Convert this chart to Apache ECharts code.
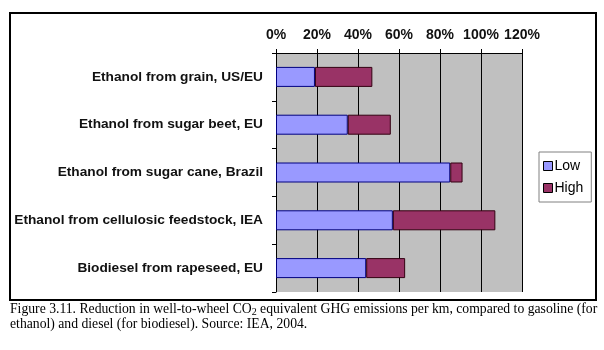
<!DOCTYPE html>
<html>
<head>
<meta charset="utf-8">
<script src="https://cdn.jsdelivr.net/npm/echarts@6/dist/echarts.min.js"></script>
<style>
  html, body { margin: 0; padding: 0; background: #fff; }
  #chart { width: 604px; height: 350px; }
</style>
</head>
<body>
<div id="chart"></div>
<script>
// categories top to bottom
const categories = [
  'Ethanol from grain, US/EU',
  'Ethanol from sugar beet, EU',
  'Ethanol from sugar cane, Brazil',
  'Ethanol from cellulosic feedstock, IEA',
  'Biodiesel from rapeseed, EU'
]
// low estimate, and extra part up to the high estimate (stacked), in %
const lowValues = [19, 35, 85, 57, 44]
const highExtra = [28, 21, 6, 50, 19]
const xTicks = [0, 20, 40, 60, 80, 100, 120]

const chart = echarts.init(document.getElementById('chart'))

const option = {
  backgroundColor: '#fff',
  animation: false,
  grid: { left: 276, right: 82, top: 53, bottom: 58 },
  xAxis: {
    type: 'value',
    position: 'top',
    min: xTicks[0],
    max: xTicks[xTicks.length - 1],
    interval: 20,
    axisLine: { show: true, lineStyle: { color: '#000', width: 1 } },
    axisTick: { show: true, length: 4, inside: false, lineStyle: { color: '#000' } },
    axisLabel: {
      formatter: '{value}%',
      color: '#111',
      fontFamily: 'Liberation Sans, Arial',
      fontWeight: 'bold',
      fontSize: 14,
      margin: 11
    },
    splitLine: { show: true, lineStyle: { color: '#000', width: 1 } },
    splitArea: { show: true, areaStyle: { color: ['#c0c0c0', '#c0c0c0'] } }
  },
  yAxis: {
    type: 'category',
    data: categories,
    inverse: true,
    axisLine: { show: true, lineStyle: { color: '#000' } },
    axisTick: { show: true, length: 4, lineStyle: { color: '#000' } },
    axisLabel: {
      color: '#111',
      fontFamily: 'Liberation Sans, Arial',
      fontWeight: 'bold',
      fontSize: 13.7,
      margin: 13
    }
  },
  legend: {
    orient: 'vertical',
    left: 539,
    top: 152,
    itemWidth: 9,
    itemHeight: 9,
    itemGap: 8,
    padding: [7, 8, 7, 4],
    borderColor: '#808080',
    borderWidth: 1,
    icon: 'rect',
    itemStyle: { borderColor: '#000', borderWidth: 1 },
    textStyle: { color: '#000', fontFamily: 'Liberation Sans, Arial', fontSize: 14, padding: [0, 0, 0, -3] },
    data: ['Low', 'High']
  },
  series: [
    {
      name: 'Low',
      type: 'bar',
      stack: 'total',
      barWidth: 20,
      data: lowValues,
      itemStyle: { color: '#9999ff', borderColor: '#000080', borderWidth: 1 }
    },
    {
      name: 'High',
      type: 'bar',
      stack: 'total',
      barWidth: 20,
      data: highExtra,
      itemStyle: { color: '#993366', borderColor: '#330011', borderWidth: 1 }
    }
  ],
  title: {
    left: 5,
    top: 297,
    text: '{t|Figure 3.11. Reduction in well-to-wheel CO}{s|2}{t| equivalent GHG emissions per km, compared to gasoline (for}\n{t|ethanol) and diesel (for biodiesel). Source: IEA, 2004.}',
    textStyle: {
      fontWeight: 'normal',
      rich: {
        t: { fontFamily: 'Liberation Serif, Times New Roman', fontWeight: 'normal', fontSize: 13.7, color: '#000', lineHeight: 15 },
        s: { fontFamily: 'Liberation Serif, Times New Roman', fontWeight: 'normal', fontSize: 10, color: '#000', lineHeight: 15, verticalAlign: 'bottom', padding: [4, 0, 0, 0] }
      }
    }
  },
  graphic: [
    {
      type: 'rect',
      shape: { x: 10, y: 13, width: 586, height: 287 },
      style: { fill: 'none', stroke: '#000', lineWidth: 2 },
      z: -1
    }
  ]
}

chart.setOption(option)
</script>
</body>
</html>
